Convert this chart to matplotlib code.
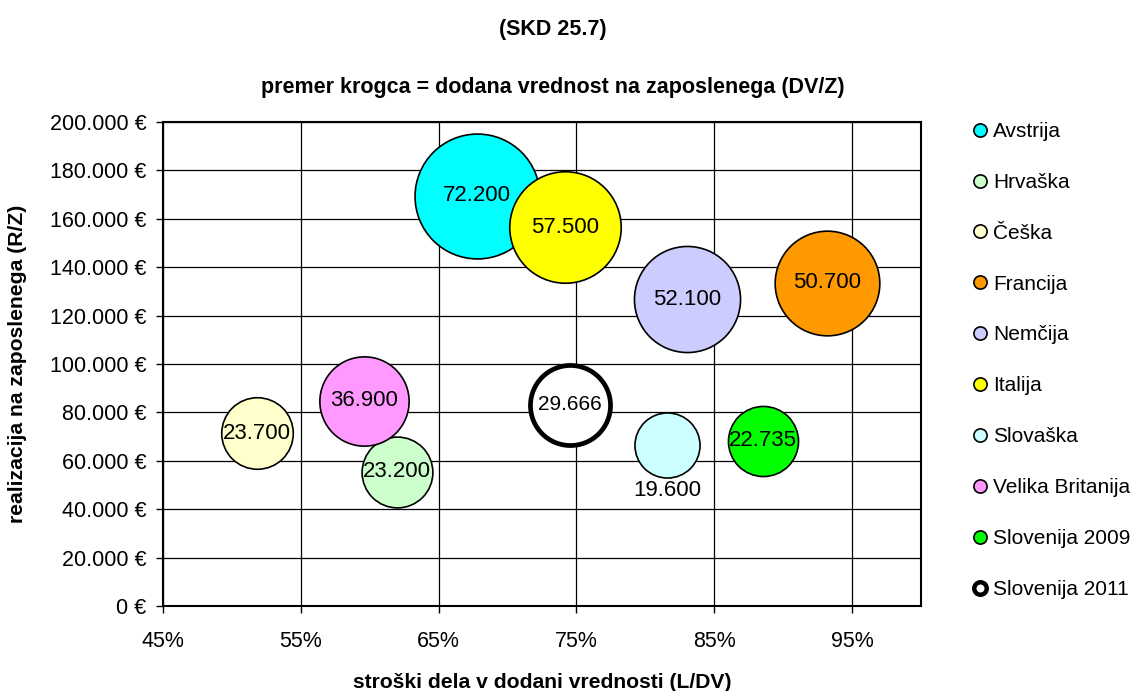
import matplotlib
matplotlib.use("Agg")
import matplotlib.pyplot as plt
from matplotlib.lines import Line2D
from matplotlib.ticker import FuncFormatter, FixedLocator, MultipleLocator

plt.rcParams['font.family'] = ['Liberation Sans', 'DejaVu Sans']

countries = ["Avstrija", "Hrvaška", "Češka", "Francija", "Nemčija", "Italija",
             "Slovaška", "Velika Britanija", "Slovenija 2009", "Slovenija 2011"]
labor_share = [0.678, 0.620, 0.518, 0.932, 0.830, 0.742, 0.816, 0.596, 0.885, 0.745]
revenue_per_emp = [169600, 55400, 71300, 133500, 126700, 156500, 66700, 84800, 68200, 83100]
value_added = [72200, 23200, 23700, 50700, 52100, 57500, 19600, 36900, 22735, 29666]
colors = ["#00FFFF", "#CCFFCC", "#FFFFCC", "#FF9900", "#CCCCFF", "#FFFF00",
          "#CCFFFF", "#FF99FF", "#00FF00", "#FFFFFF"]
x_ticks = [0.45, 0.55, 0.65, 0.75, 0.85, 0.95]

W, H = 1141, 691
fig = plt.figure(figsize=(W / 100, H / 100), dpi=100)
L, R, T, B = 163, 921, 122, 606
ax = fig.add_axes([L / W, 1 - B / H, (R - L) / W, (B - T) / H])

ax.set_xlim(0.45, 1.00)
ax.set_ylim(0, 200000)
ax.xaxis.set_major_locator(FixedLocator(x_ticks))
ax.yaxis.set_major_locator(MultipleLocator(20000))
ax.xaxis.set_major_formatter(FuncFormatter(lambda v, p: f"{v*100:.0f}%"))
ax.yaxis.set_major_formatter(FuncFormatter(lambda v, p: f"{v:,.0f} €".replace(",", ".")))
ax.grid(True, color="black", linewidth=0.9)
ax.set_axisbelow(True)
for s in ax.spines.values():
    s.set_linewidth(1.5)
ax.tick_params(labelsize=15.5, length=5, width=1, direction="out")
ax.tick_params(axis="y", pad=7)
ax.tick_params(axis="x", pad=13)

K = 0.112
for i, name in enumerate(countries):
    is11 = name == "Slovenija 2011"
    ax.scatter(labor_share[i], revenue_per_emp[i], s=value_added[i] * K,
               facecolor=colors[i], edgecolor="black",
               linewidth=3.4 if is11 else 1.2, zorder=3 + i)
    lbl = f"{value_added[i]:,}".replace(",", ".")
    if name == "Slovaška":
        ax.annotate(lbl, (labor_share[i], revenue_per_emp[i]), xytext=(0, -33),
                    textcoords="offset points", ha="center", va="center",
                    fontsize=16, zorder=20)
    else:
        ax.text(labor_share[i], revenue_per_emp[i], lbl, ha="center", va="center",
                fontsize=15 if is11 else 16, zorder=20)

handles = []
for i, name in enumerate(countries):
    is11 = name == "Slovenija 2011"
    handles.append(Line2D([], [], linestyle="none", marker="o",
                          markersize=9.5 if not is11 else 9,
                          markerfacecolor=colors[i], markeredgecolor="black",
                          markeredgewidth=3.2 if is11 else 1.2, label=name))
fig.legend(handles=handles, loc="upper left", bbox_to_anchor=(973 / W, 1 - 122 / H),
           frameon=False, fontsize=15, labelspacing=1.53, handlelength=0.65,
           handletextpad=0.3, borderpad=0, borderaxespad=0)

fig.text(553 / W, 1 - 30 / H, "(SKD 25.7)", ha="center", va="center",
         fontsize=15.5, fontweight="bold")
fig.text(553 / W, 1 - 87 / H, "premer krogca = dodana vrednost na zaposlenega (DV/Z)",
         ha="center", va="center", fontsize=15.5, fontweight="bold")
fig.text(542 / W, 1 - 683 / H, "stroški dela v dodani vrednosti (L/DV)",
         ha="center", va="center", fontsize=15.2, fontweight="bold")
fig.text(18 / W, 1 - 364 / H, "realizacija na zaposlenega (R/Z)", ha="center",
         va="center", rotation=90, fontsize=15.2, fontweight="bold")

fig.savefig("out.png", dpi=100)
